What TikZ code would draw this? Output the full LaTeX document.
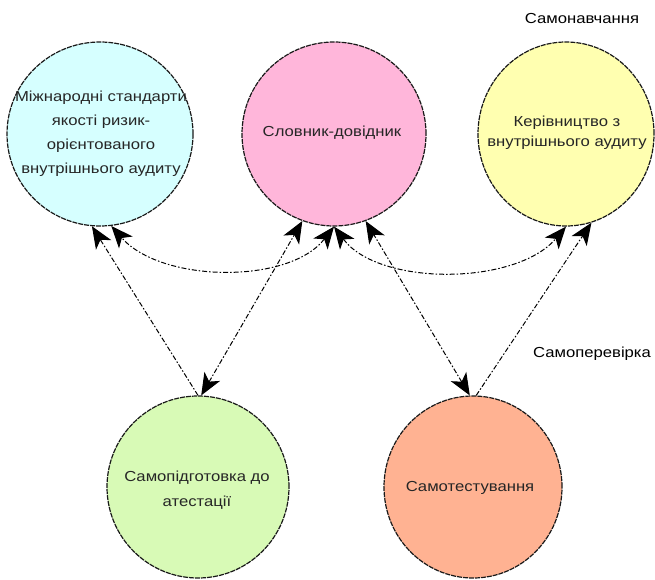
\documentclass[tikz,border=0pt]{standalone}
\usepackage{fontspec}
\setmainfont{Liberation Sans}[FakeStretch=1.15]
\usetikzlibrary{shapes.geometric,arrows.meta}
\definecolor{cyanF}{RGB}{214,255,255}
\definecolor{pinkF}{RGB}{255,182,218}
\definecolor{yelF}{RGB}{255,255,176}
\definecolor{grnF}{RGB}{216,250,182}
\definecolor{orF}{RGB}{255,178,146}
\tikzset{headtip/.tip={Stealth[length=22pt,width=18pt,inset=6pt]}}
\begin{document}
\begin{tikzpicture}[x=1pt,y=1pt,
 bubble/.style={ellipse, draw=black!90, dash pattern=on 5pt off 1pt, line width=1.2pt, inner sep=0pt},
 btext/.style={align=center, text=black!85, inner sep=0pt},
 link/.style={line width=1pt, dash pattern=on 5pt off 2pt on 1.5pt off 2pt},
 lbl/.style={font=\fontsize{14.5}{17}\selectfont, text=black}]
\useasboundingbox (0,0) rectangle (655,-580);

\node[bubble, fill=cyanF, minimum width=186, minimum height=184] (c) at (100,-134) {};
\node[bubble, fill=pinkF, minimum width=184, minimum height=184] (p) at (334,-134) {};
\node[bubble, fill=yelF, minimum width=176, minimum height=184] (y) at (566,-134) {};
\node[bubble, fill=grnF, minimum width=182, minimum height=182] (g) at (198,-487) {};
\node[bubble, fill=orF, minimum width=178, minimum height=182] (o) at (473,-487) {};

\node[btext, font=\fontsize{14.5}{24}\selectfont] (ct) at (101,-134)
  {Міжнародні стандарти\\якості ризик-\\орієнтованого\\внутрішнього аудиту};
\node[btext, font=\fontsize{14.5}{20}\selectfont] (pt) at (332,-133) {Словник-довідник};
\node[btext, font=\fontsize{14.5}{20}\selectfont] (yt) at (567,-133)
  {Керівництво з\\внутрішнього аудиту};
\node[btext, font=\fontsize{14.5}{25}\selectfont] (gt) at (197,-490)
  {Самопідготовка до\\атестації};
\node[btext, font=\fontsize{14.5}{20}\selectfont] (ot) at (470,-488) {Самотестування};

\node[lbl] (l1) at (582,-19) {Самонавчання};
\node[lbl] (l2) at (592,-354) {Самоперевірка};

\draw[link,-headtip] (g.90) -- (c.265);
\draw[link,headtip-headtip] (g.88) -- (p.250);
\draw[link,headtip-headtip] (o.92) -- (p.290);
\draw[link,-headtip] (o.88) -- (y.286);
\draw[link,headtip-headtip] (p.270) .. controls +(-45,-58) and +(50,-57) .. (c.277);
\draw[link,headtip-headtip] (p.270) .. controls +(45,-60) and +(-50,-59) .. (y.270);
\end{tikzpicture}
\end{document}
